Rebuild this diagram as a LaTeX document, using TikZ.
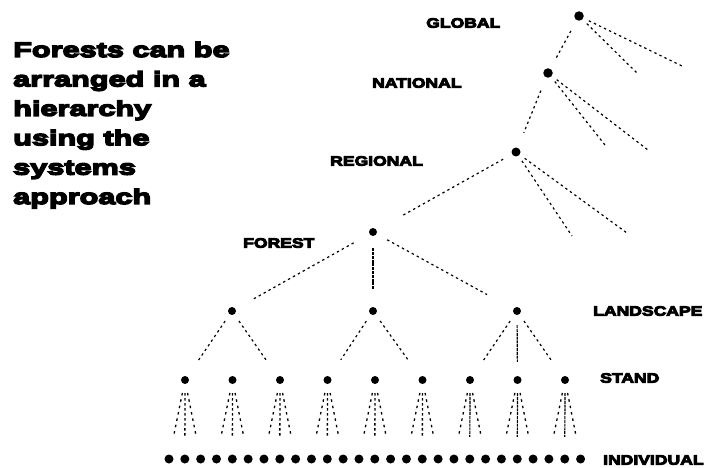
\documentclass[tikz,border=0pt]{standalone}
\usepackage{fontspec}
\setmainfont{Liberation Sans}
\newfontfamily\heavy{Liberation Sans}[UprightFont=* Bold, FakeBold=7, FakeStretch=1.46]
\newfontfamily\heavylbl{Liberation Sans}[UprightFont=* Bold, FakeBold=7, FakeStretch=1.3]
\usetikzlibrary{calc}

\begin{document}
\begin{tikzpicture}[x=1pt,y=-1pt,
  dot/.style={circle,fill=black,inner sep=0pt,minimum size=8pt},
  bigdot/.style={dot,minimum size=9.5pt},
  link/.style={line width=1.2pt,dash pattern=on 2.4pt off 3.2pt,shorten <=6pt,shorten >=6pt},
  denselink/.style={line width=1.2pt,dash pattern=on 3pt off 0.8pt},
  twig/.style={line width=1.3pt,dash pattern=on 2.5pt off 4pt,shorten <=9pt},
  lvl/.style={font=\heavylbl\fontsize{13.5}{13.5}\selectfont,anchor=west,inner sep=0pt},
  title/.style={font=\heavy\fontsize{21}{21}\selectfont,anchor=base west,inner sep=0pt}]
\useasboundingbox (0,0) rectangle (715,468);

% heading text
\node[title] (t1) at (13,57)    {Forests can be};
\node[title] (t2) at (13,86.4)  {arranged in a};
\node[title] (t3) at (13,115.8) {hierarchy};
\node[title] (t4) at (13,145.2) {using the};
\node[title] (t5) at (13,174.6) {systems};
\node[title] (t6) at (13,204)   {approach};

% level names
\node[lvl] (lglobal)   at (426,23)  {GLOBAL};
\node[lvl] (lnational) at (372,83)  {NATIONAL};
\node[lvl] (lregional) at (330,161) {REGIONAL};
\node[lvl] (lforest)   at (243,243) {FOREST};
\node[lvl] (lland)     at (593,311) {LANDSCAPE};
\node[lvl] (lstand)    at (600,378) {STAND};
\node[lvl] (lind)      at (603,460) {INDIVIDUAL};

% hierarchy nodes
\node[bigdot] (global) at (579,16) {};
\node[bigdot] (national) at (548,73) {};
\node[dot,minimum size=9pt] (regional) at (516,152) {};
\node[dot] (forest) at (373,232) {};
\node[dot] (land1) at (232,311) {};
\node[dot] (land2) at (373,311) {};
\node[dot] (land3) at (517,311) {};
\foreach \j in {0,...,8}
  \node[dot] (stand\j) at ({185+47.5*\j},380) {};
\foreach \i in {0,...,26}
  \node[dot,minimum size=9pt] (ind\i) at ({169+15.83*\i},459) {};

% open branches leaving the upper levels
\coordinate (g1) at (682,66);
\coordinate (g2) at (638,74);
\coordinate (n1) at (648,150);
\coordinate (n2) at (605,145);
\coordinate (r1) at (627,233);
\coordinate (r2) at (572,236);

\draw[link,shorten <=12pt,shorten >=12pt] (global) -- (national);
\draw[link,shorten <=14pt,shorten >=16pt] (national) -- (regional);
\draw[link,shorten <=10pt,shorten >=30pt] (regional) -- (forest);
\draw[link,shorten >=0pt] (global) -- (g1);
\draw[link,shorten >=0pt] (global) -- (g2);
\draw[link,shorten >=0pt] (national) -- (n1);
\draw[link,shorten >=0pt] (national) -- (n2);
\draw[link,shorten >=0pt] (regional) -- (r1);
\draw[link,shorten >=0pt] (regional) -- (r2);

% forest to landscapes
\draw[link,shorten <=18pt,shorten >=20pt] (forest) -- (land1);
\draw[denselink,shorten <=12pt,shorten >=18pt] (forest) -- (land2);
\draw[link,shorten <=12pt,shorten >=30pt] (forest) -- (land3);

% landscapes to stands
\draw[link,shorten <=8pt,shorten >=20pt] (land1) -- (stand0);
\draw[link,shorten <=8pt,shorten >=20pt] (land1) -- (stand2);
\draw[link,shorten <=8pt,shorten >=20pt] (land2) -- (stand3);
\draw[link,shorten <=8pt,shorten >=20pt] (land2) -- (stand5);
\draw[link,shorten <=8pt,shorten >=20pt] (land3) -- (stand6);
\draw[denselink,shorten <=10pt,shorten >=14pt] (land3) -- (stand7);
\draw[link,shorten <=8pt,shorten >=20pt] (land3) -- (stand8);

% stands fan out towards their individuals
\foreach \j in {0,...,8}{
  \pgfmathtruncatemacro{\a}{3*\j}
  \pgfmathtruncatemacro{\b}{3*\j+1}
  \pgfmathtruncatemacro{\c}{3*\j+2}
  \coordinate (tl\j) at ($(stand\j)!0.72!(ind\a)$);
  \coordinate (tc\j) at ($(stand\j)!0.72!(ind\b)$);
  \coordinate (tr\j) at ($(stand\j)!0.72!(ind\c)$);
  \draw[twig] (stand\j) -- (tl\j);
  \draw[twig] (stand\j) -- (tr\j);
}
\foreach \j in {0,...,5}
  \draw[twig,dash pattern=on 2.5pt off 2.5pt] (stand\j) -- (tc\j);
\foreach \j in {6,7,8}
  \draw[denselink,shorten <=9pt] (stand\j) -- (tc\j);
\end{tikzpicture}
\end{document}
